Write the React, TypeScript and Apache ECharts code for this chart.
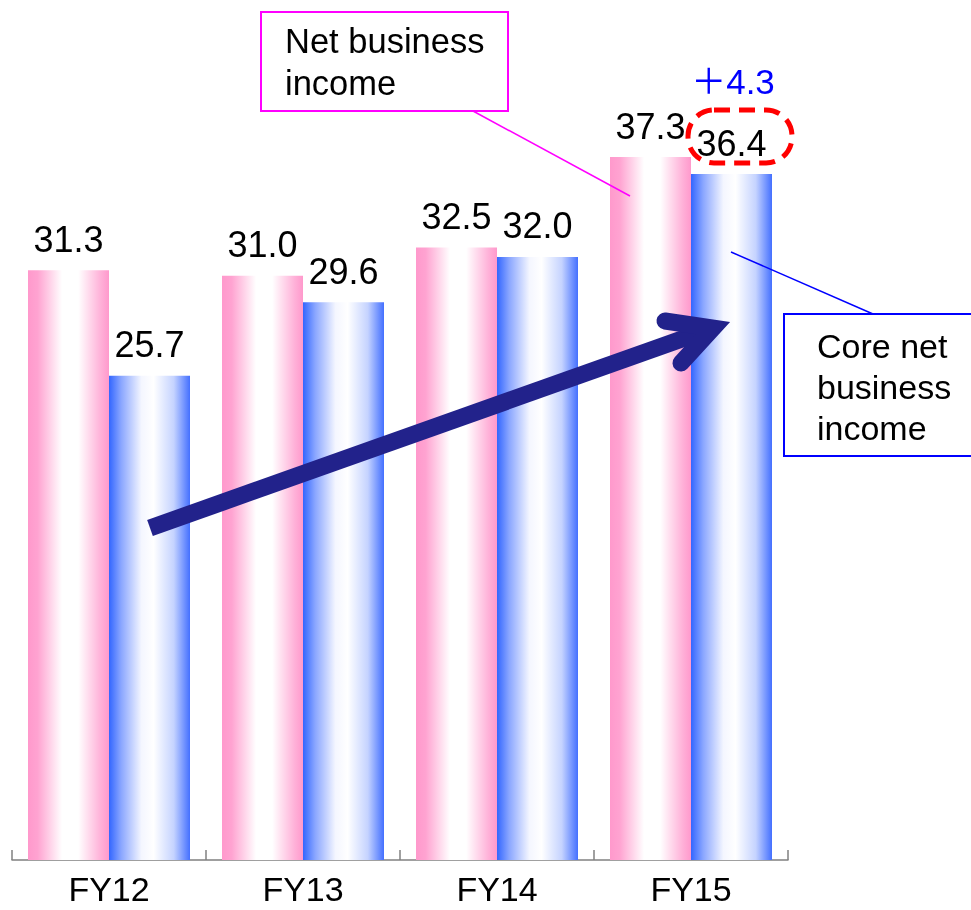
import React, { useEffect, useRef } from "react";
import * as echarts from "echarts";

const categories = ["FY12", "FY13", "FY14", "FY15"];
const netBusinessIncome = [31.3, 31.0, 32.5, 37.3];
const coreNetBusinessIncome = [25.7, 29.6, 32.0, 36.4];
const seriesNames = ["Net business income", "Core net business income"];
const increaseLabel = "＋4.3";

const FONT = "'Liberation Sans', Arial, 'Noto Sans CJK JP', sans-serif";

export default function App() {
  const ref = useRef<HTMLDivElement>(null);
  useEffect(() => {
    if (!ref.current) return;
    const chart = echarts.init(ref.current, null, { renderer: "svg" });
    const pinkGrad = new echarts.graphic.LinearGradient(0, 0, 1, 0, [
      { offset: 0, color: "#ff99cc" },
      { offset: 0.12, color: "#ffa3d1" },
      { offset: 0.42, color: "#ffffff" },
      { offset: 0.62, color: "#ffffff" },
      { offset: 0.9, color: "#ffb0d8" },
      { offset: 1, color: "#ff99cc" },
    ]);
    const blueGrad = new echarts.graphic.LinearGradient(0, 0, 1, 0, [
      { offset: 0, color: "#3366ff" },
      { offset: 0.15, color: "#8aa6ff" },
      { offset: 0.4, color: "#f4f6ff" },
      { offset: 0.55, color: "#ffffff" },
      { offset: 0.8, color: "#c5d3ff" },
      { offset: 1, color: "#4470ff" },
    ]);
    const labelStyle = {
      show: true,
      position: "top",
      distance: 13,
      color: "#000",
      fontSize: 36,
      fontFamily: FONT,
      formatter: (p: any) => Number(p.value).toFixed(1),
    };
    const arrowColor = "#22228b";
    chart.setOption({
      animation: false,
      grid: { left: 12, right: 183, top: 12, bottom: 50 },
      xAxis: {
        type: "category",
        data: categories,
        axisLine: { lineStyle: { color: "#808080", width: 1.5 } },
        axisTick: { show: true, inside: true, length: 10, lineStyle: { color: "#808080", width: 1.5 } },
        axisLabel: { color: "#000", fontSize: 34, lineHeight: 28, fontFamily: FONT, margin: 15 },
        splitLine: { show: false },
      },
      yAxis: { type: "value", min: 0, max: 45, show: false, splitLine: { show: false } },
      series: [
        {
          name: seriesNames[0],
          type: "bar",
          data: netBusinessIncome,
          barWidth: 81,
          barGap: "0%",
          itemStyle: { color: pinkGrad },
          label: labelStyle,
        },
        {
          name: seriesNames[1],
          type: "bar",
          data: coreNetBusinessIncome,
          barWidth: 81,
          barGap: "0%",
          itemStyle: { color: blueGrad },
          label: labelStyle,
        },
      ],
      graphic: [
        {
          type: "line",
          z: 100,
          shape: { x1: 473, y1: 111, x2: 630, y2: 196 },
          style: { stroke: "#ff00ff", lineWidth: 1.5 },
        },
        {
          type: "rect",
          z: 100,
          shape: { x: 261, y: 12, width: 247, height: 99 },
          style: { fill: "#fff", stroke: "#ff00ff", lineWidth: 2 },
        },
        {
          type: "text",
          z: 101,
          x: 285,
          y: 20,
          style: { text: "Net business\nincome", fill: "#000", fontSize: 34.5, fontFamily: FONT, lineHeight: 42, align: "left", verticalAlign: "top" },
        },
        {
          type: "line",
          z: 100,
          shape: { x1: 731, y1: 252, x2: 873, y2: 314 },
          style: { stroke: "#0000ff", lineWidth: 1.5 },
        },
        {
          type: "rect",
          z: 100,
          shape: { x: 784, y: 314, width: 200, height: 142 },
          style: { fill: "#fff", stroke: "#0000ff", lineWidth: 2 },
        },
        {
          type: "text",
          z: 101,
          x: 817,
          y: 325,
          style: { text: "Core net\nbusiness\nincome", fill: "#000", fontSize: 34, fontFamily: FONT, lineHeight: 41, align: "left", verticalAlign: "top" },
        },
        {
          type: "text",
          z: 101,
          x: 733,
          y: 81,
          style: { text: increaseLabel, fill: "#0000ff", fontSize: 35, fontFamily: FONT, align: "center", verticalAlign: "middle" },
        },
        {
          type: "rect",
          z: 101,
          shape: { x: 688, y: 110, width: 104, height: 53, r: 26 },
          style: { fill: "none", stroke: "#ff0000", lineWidth: 5, lineDash: [16, 9] },
        },
        {
          type: "line",
          z: 102,
          shape: { x1: 150, y1: 528, x2: 713, y2: 328 },
          style: { stroke: arrowColor, lineWidth: 17, lineCap: "butt" },
        },
        {
          type: "polyline",
          z: 102,
          shape: { points: [[665, 321], [713, 328], [681, 363]] },
          style: { stroke: arrowColor, lineWidth: 17, lineCap: "round", lineJoin: "miter", miterLimit: 10, fill: "none" },
        },
      ],
    });
    return () => chart.dispose();
  }, []);
  return <div ref={ref} style={{ position: "fixed", left: 0, top: 0, width: 971, height: 910 }} />;
}
